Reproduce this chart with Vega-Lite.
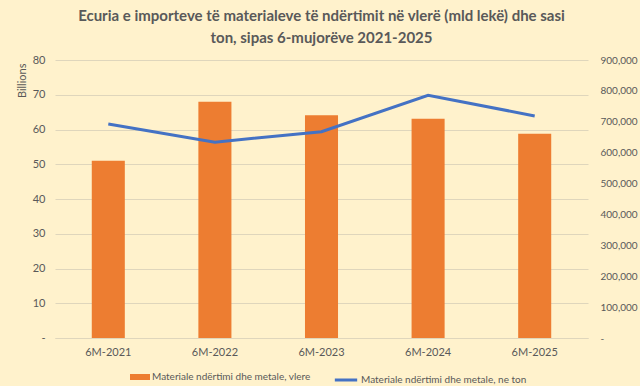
{
  "$schema": "https://vega.github.io/schema/vega-lite/v6.json",
  "width": 533,
  "height": 278,
  "autosize": "none",
  "padding": {"left": 55, "top": 60, "right": 52, "bottom": 48},
  "background": "#FFF2CC",
  "title": {
    "text": ["Ecuria e importeve të materialeve të ndërtimit në vlerë (mld lekë) dhe sasi", "ton, sipas 6-mujorëve 2021-2025"],
    "font": "Lato",
    "fontSize": 15,
    "fontWeight": "bold",
    "color": "#595959",
    "anchor": "middle",
    "lineHeight": 22,
    "offset": 8
  },
  "config": {
    "view": {"stroke": null},
    "axis": {"labelFont": "Lato", "labelFontSize": 11, "labelColor": "#595959", "titleFont": "Lato", "titleColor": "#595959", "titleFontWeight": "normal", "titleFontSize": 11, "ticks": false, "domain": false, "gridColor": "#DFD6BC", "gridWidth": 1},
    "legend": {"labelFont": "Lato", "labelFontSize": 10, "labelColor": "#595959", "labelLimit": 400}
  },
  "data": {
    "values": [
      {"period": "6M-2021", "vlere": 51.0, "ton": 693000},
      {"period": "6M-2022", "vlere": 68.0, "ton": 634000},
      {"period": "6M-2023", "vlere": 64.1, "ton": 668000},
      {"period": "6M-2024", "vlere": 63.1, "ton": 786000},
      {"period": "6M-2025", "vlere": 58.8, "ton": 719000}
    ]
  },
  "encoding": {
    "x": {
      "field": "period",
      "type": "nominal",
      "sort": null,
      "scale": {"paddingInner": 0.69, "paddingOuter": 0.345},
      "axis": {"title": null, "labelAngle": 0, "labelPadding": 8, "grid": false, "domain": true, "domainColor": "#DFD6BC"}
    }
  },
  "layer": [
    {
      "mark": {"type": "bar", "color": "#ED7D31"},
      "encoding": {
        "y": {
          "field": "vlere",
          "type": "quantitative",
          "scale": {"domain": [0, 80]},
          "axis": {"title": "Billions", "values": [0, 10, 20, 30, 40, 50, 60, 70, 80], "labelExpr": "datum.value == 0 ? '-' : datum.label", "labelPadding": 10, "titleX": -33, "titleY": 3, "titleAngle": -90, "titleAlign": "right", "titleBaseline": "middle", "grid": true}
        },
        "color": {
          "datum": "Materiale ndërtimi dhe metale, vlere",
          "type": "nominal",
          "scale": {"range": ["#ED7D31"]},
          "legend": {"title": null, "orient": "none", "legendX": 75, "legendY": 307, "symbolType": "M-1,-0.3H1V0.3H-1Z", "symbolSize": 400, "symbolStrokeWidth": 0, "labelOffset": 2}
        }
      }
    },
    {
      "mark": {"type": "line", "strokeWidth": 3},
      "encoding": {
        "y": {
          "field": "ton",
          "type": "quantitative",
          "scale": {"domain": [0, 900000]},
          "axis": {"title": null, "orient": "right", "labelFontSize": 10, "values": [0, 100000, 200000, 300000, 400000, 500000, 600000, 700000, 800000, 900000], "labelExpr": "datum.value == 0 ? '-' : format(datum.value, ',')", "labelPadding": 12, "grid": false}
        },
        "stroke": {
          "datum": "Materiale ndërtimi dhe metale, ne ton",
          "type": "nominal",
          "scale": {"range": ["#4472C4"]},
          "legend": {"title": null, "orient": "none", "legendX": 278, "legendY": 307, "symbolType": "stroke", "symbolSize": 500, "symbolStrokeWidth": 3, "labelOffset": 2}
        }
      }
    }
  ],
  "resolve": {"scale": {"y": "independent"}}
}
